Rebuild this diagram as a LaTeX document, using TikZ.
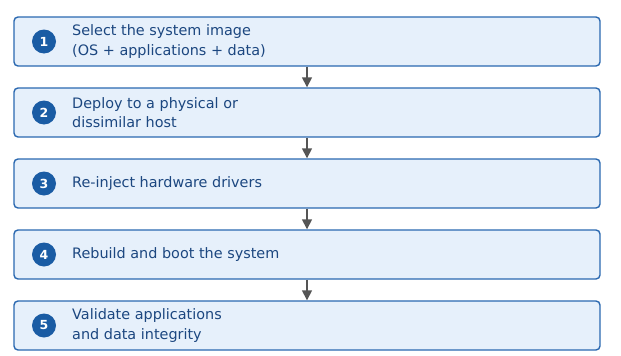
\documentclass[tikz,border=0pt]{standalone}
\usepackage{fontspec}
\setmainfont{DejaVu Sans}
\usetikzlibrary{arrows.meta}
\definecolor{boxfill}{HTML}{E6F0FB}
\definecolor{boxline}{HTML}{2A68B0}
\definecolor{circfill}{HTML}{1A5CA4}
\definecolor{txt}{HTML}{1C4780}
\definecolor{arr}{HTML}{555555}
\begin{document}
\begin{tikzpicture}[x=1pt,y=-1pt,
  stepbox/.style={draw=boxline,fill=boxfill,line width=1.4pt,rounded corners=4pt,minimum width=586pt,minimum height=49pt,inner sep=0pt},
  num/.style={circle,fill=circfill,minimum size=24pt,inner sep=0pt,text=white,font=\fontsize{12.5}{14}\selectfont\bfseries},
  lbl/.style={anchor=west,text=txt,align=left,inner sep=0pt,font=\fontsize{14.4}{19.5}\selectfont},
  flow/.style={draw=arr,line width=1.6pt,-{Triangle[length=10pt,width=10pt]}}]
\useasboundingbox (0,0) rectangle (621,356);
\foreach \i/\t [count=\k] in {1/{Select the system image\\(OS + applications + data)},
  2/{Deploy to a physical or\\dissimilar host},
  3/{Re-inject hardware drivers},
  4/{Rebuild and boot the system},
  5/{Validate applications\\and data integrity}}{
  \pgfmathsetmacro{\yy}{41.5+71*(\i-1)}
  \node[stepbox] (b\i) at (307,\yy) {};
  \node[num] (n\i) at (44,\yy) {\i};
  \node[lbl] (t\i) at (72,\yy) {\t};
}
\foreach \a/\b in {1/2,2/3,3/4,4/5}{
  \draw[flow] (b\a.south) -- (b\b.north);
}
\end{tikzpicture}
\end{document}
